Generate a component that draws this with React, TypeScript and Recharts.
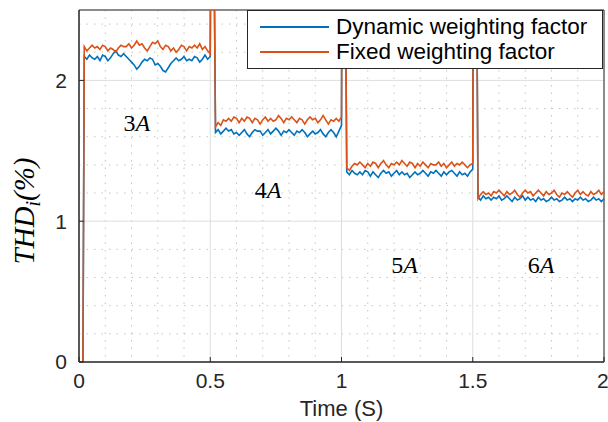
import React from 'react';
import { LineChart, Line, XAxis, YAxis, CartesianGrid, Legend, ReferenceArea, ReferenceDot } from 'recharts';

// time grid: each current step is sampled every 0.01 s
const SEG_START = [0.02, 0.52, 1.02, 1.52];
const SWITCH_TIMES = [0.5, 1.0, 1.5];
const STEP = 0.01;
const SPIKE = 3; // transient at each load change, runs off the top of the axes

const DYN_3A = [
  2.17, 2.15, 2.18, 2.16, 2.15, 2.17, 2.14, 2.18, 2.17, 2.14,
  2.16, 2.19, 2.21, 2.18, 2.17, 2.19, 2.17, 2.15, 2.13, 2.11,
  2.08, 2.10, 2.13, 2.15, 2.14, 2.16, 2.15, 2.11, 2.12, 2.10,
  2.07, 2.06, 2.09, 2.12, 2.14, 2.16, 2.14, 2.15, 2.17, 2.14,
  2.15, 2.14, 2.17, 2.16, 2.13, 2.15, 2.18, 2.15, 2.17,
];
const FIX_3A = [
  2.24, 2.21, 2.23, 2.25, 2.23, 2.24, 2.22, 2.25, 2.24, 2.21,
  2.23, 2.22, 2.20, 2.23, 2.25, 2.24, 2.24, 2.26, 2.23, 2.25,
  2.28, 2.25, 2.26, 2.23, 2.21, 2.24, 2.27, 2.26, 2.28, 2.24,
  2.22, 2.25, 2.24, 2.21, 2.23, 2.20, 2.22, 2.25, 2.24, 2.21,
  2.24, 2.23, 2.25, 2.23, 2.26, 2.22, 2.24, 2.21, 2.19,
];
const DYN_4A = [
  1.63, 1.65, 1.62, 1.64, 1.66, 1.64, 1.65, 1.62, 1.63, 1.61,
  1.63, 1.65, 1.62, 1.60, 1.63, 1.65, 1.64, 1.64, 1.61, 1.63,
  1.65, 1.62, 1.64, 1.66, 1.64, 1.61, 1.64, 1.63, 1.65, 1.63,
  1.61, 1.64, 1.63, 1.65, 1.63, 1.60, 1.62, 1.64, 1.62, 1.63,
  1.65, 1.62, 1.60, 1.63, 1.65, 1.63, 1.60, 1.64, 1.68,
];
const FIX_4A = [
  1.67, 1.70, 1.68, 1.72, 1.71, 1.73, 1.71, 1.74, 1.73, 1.70,
  1.73, 1.71, 1.74, 1.73, 1.70, 1.73, 1.72, 1.69, 1.72, 1.74,
  1.71, 1.73, 1.71, 1.72, 1.75, 1.73, 1.70, 1.73, 1.72, 1.74,
  1.72, 1.70, 1.73, 1.72, 1.69, 1.72, 1.74, 1.72, 1.73, 1.70,
  1.72, 1.75, 1.72, 1.69, 1.72, 1.71, 1.73, 1.71, 1.74,
];
const DYN_5A = [
  1.35, 1.33, 1.36, 1.34, 1.33, 1.35, 1.33, 1.36, 1.35, 1.32,
  1.35, 1.33, 1.31, 1.34, 1.36, 1.34, 1.35, 1.32, 1.34, 1.36,
  1.33, 1.35, 1.33, 1.34, 1.31, 1.33, 1.35, 1.33, 1.34, 1.36,
  1.34, 1.32, 1.35, 1.34, 1.36, 1.34, 1.32, 1.35, 1.33, 1.35,
  1.36, 1.34, 1.32, 1.35, 1.33, 1.34, 1.32, 1.35, 1.37,
];
const FIX_5A = [
  1.38, 1.36, 1.39, 1.41, 1.40, 1.42, 1.40, 1.38, 1.41, 1.39,
  1.42, 1.41, 1.38, 1.41, 1.43, 1.40, 1.38, 1.41, 1.40, 1.42,
  1.40, 1.43, 1.41, 1.39, 1.42, 1.41, 1.38, 1.41, 1.39, 1.42,
  1.40, 1.38, 1.41, 1.40, 1.40, 1.42, 1.39, 1.41, 1.38, 1.40,
  1.42, 1.39, 1.41, 1.40, 1.42, 1.40, 1.38, 1.40, 1.41,
];
const DYN_6A = [
  1.17, 1.15, 1.18, 1.16, 1.17, 1.15, 1.17, 1.16, 1.18, 1.15,
  1.16, 1.18, 1.16, 1.14, 1.17, 1.15, 1.16, 1.18, 1.15, 1.17,
  1.15, 1.16, 1.14, 1.17, 1.15, 1.16, 1.14, 1.15, 1.17, 1.15,
  1.16, 1.14, 1.15, 1.17, 1.15, 1.16, 1.14, 1.16, 1.15, 1.17,
  1.15, 1.16, 1.14, 1.15, 1.17, 1.15, 1.16, 1.14, 1.16,
];
const FIX_6A = [
  1.16, 1.19, 1.21, 1.19, 1.20, 1.18, 1.21, 1.20, 1.22, 1.20,
  1.18, 1.21, 1.19, 1.20, 1.22, 1.19, 1.17, 1.20, 1.22, 1.20,
  1.21, 1.18, 1.20, 1.22, 1.20, 1.18, 1.21, 1.19, 1.20, 1.22,
  1.19, 1.17, 1.20, 1.19, 1.21, 1.19, 1.17, 1.20, 1.22, 1.19,
  1.21, 1.19, 1.18, 1.21, 1.19, 1.20, 1.22, 1.19, 1.21,
];

const DYN_SEGMENTS = [DYN_3A, DYN_4A, DYN_5A, DYN_6A];
const FIX_SEGMENTS = [FIX_3A, FIX_4A, FIX_5A, FIX_6A];

const CURRENT_LABELS = ['3A', '4A', '5A', '6A'];
const LABEL_T = [0.22, 0.72, 1.24, 1.76];
const LABEL_Y = [1.7, 1.22, 0.69, 0.69];

const X_TICKS = [0, 0.5, 1, 1.5, 2];
const Y_TICKS = [0, 1, 2];
const X_MINOR = [0.1, 0.2, 0.3, 0.4, 0.6, 0.7, 0.8, 0.9, 1.1, 1.2, 1.3, 1.4, 1.6, 1.7, 1.8, 1.9];
const Y_MINOR = [0.2, 0.4, 0.6, 0.8, 1.2, 1.4, 1.6, 1.8, 2.2, 2.4];

const BLUE = '#0072BD';
const ORANGE = '#D95319';
const AXIS = '#262626';
const SANS = "'Liberation Sans', Arial, sans-serif";
const SERIF = "'Liberation Serif', serif";

const r3 = (v: number) => Math.round(v * 1000) / 1000;

const data: { t: number; dyn: number; fix: number }[] = [
  { t: 0, dyn: 0, fix: 0 },
  { t: 0.015, dyn: 0, fix: 0 },
];
DYN_SEGMENTS.forEach((seg, s) => {
  seg.forEach((v, i) => {
    data.push({ t: r3(SEG_START[s] + i * STEP), dyn: v, fix: FIX_SEGMENTS[s][i] });
  });
  if (s < SWITCH_TIMES.length) {
    data.push({ t: r3(SWITCH_TIMES[s] + 0.002), dyn: SPIKE, fix: SPIKE });
    data.push({ t: r3(SWITCH_TIMES[s] + 0.014), dyn: SPIKE, fix: SPIKE });
  }
});

const CurrentLabel = ({ viewBox, value }: any) => {
  const cx = viewBox.x + (viewBox.width || 0) / 2;
  const cy = viewBox.y + (viewBox.height || 0) / 2;
  const txt = String(value);
  return (
    <text x={cx} y={cy + 8} textAnchor="middle" fontFamily={SERIF} fontSize={24} fill="#000">
      <tspan>{txt.slice(0, 1)}</tspan>
      <tspan fontStyle="italic">{txt.slice(1)}</tspan>
    </text>
  );
};

const YLabel = () => (
  <text
    transform="translate(34, 211) rotate(-90)"
    textAnchor="middle"
    fontFamily={SERIF}
    fontStyle="italic"
    fontSize={29}
    fill="#000"
  >
    <tspan>THD</tspan>
    <tspan fontSize={20} dy={6}>i</tspan>
    <tspan dy={-6}>(%)</tspan>
  </text>
);

const LegendBox = () => (
  <div
    style={{
      width: 356,
      height: 59,
      boxSizing: 'border-box',
      border: `1.3px solid ${AXIS}`,
      background: '#fff',
      fontFamily: SANS,
      fontSize: 22.5,
      color: '#000',
      paddingTop: 3,
      whiteSpace: 'nowrap',
    }}
  >
    {[
      { name: 'Dynamic weighting factor', color: BLUE },
      { name: 'Fixed weighting factor', color: ORANGE },
    ].map((item) => (
      <div key={item.name} style={{ display: 'flex', alignItems: 'center', height: 25 }}>
        <span style={{ display: 'inline-block', width: 69, height: 2, background: item.color, marginLeft: 12, marginRight: 7 }} />
        <span>{item.name}</span>
      </div>
    ))}
  </div>
);

export default function App() {
  return (
    <div style={{ position: 'absolute', left: 0, top: 0, width: 608, height: 422, background: '#fff' }}>
      <LineChart width={608} height={422} data={data} margin={{ top: 10, right: 4, bottom: 0, left: 0 }}>
        <CartesianGrid
          stroke="#c4c4c4"
          strokeDasharray="1.5 6"
          horizontalValues={Y_MINOR}
          verticalValues={X_MINOR}
        />
        <CartesianGrid stroke="#dedede" strokeWidth={1} />
        <XAxis
          dataKey="t"
          type="number"
          domain={[0, 2]}
          ticks={X_TICKS}
          height={60}
          stroke={AXIS}
          tickSize={-5}
          tickMargin={16}
          tick={{ fill: AXIS, fontSize: 21, fontFamily: SANS }}
          label={{ value: 'Time (S)', position: 'insideBottom', offset: 6, fill: AXIS, fontSize: 22, fontFamily: SANS }}
        />
        <YAxis
          type="number"
          domain={[0, 2.5]}
          ticks={Y_TICKS}
          allowDataOverflow
          width={79}
          stroke={AXIS}
          tickSize={-5}
          tickMargin={17}
          tick={{ fill: AXIS, fontSize: 21, fontFamily: SANS }}
          label={<YLabel />}
        />
        <ReferenceArea x1={0} x2={2} y1={0} y2={2.5} fill="none" stroke={AXIS} strokeWidth={1} />
        <Legend
          layout="vertical"
          align="center"
          verticalAlign="middle"
          content={<LegendBox />}
          wrapperStyle={{ position: 'absolute', left: 247, top: 10, width: 356, height: 59 }}
        />
        <Line type="linear" dataKey="dyn" name="Dynamic weighting factor" stroke={BLUE} strokeWidth={1.6} dot={false} isAnimationActive={false} />
        <Line type="linear" dataKey="fix" name="Fixed weighting factor" stroke={ORANGE} strokeWidth={1.6} dot={false} isAnimationActive={false} />
        {CURRENT_LABELS.map((lab, i) => (
          <ReferenceDot key={lab} x={LABEL_T[i]} y={LABEL_Y[i]} r={0} fill="none" stroke="none" label={<CurrentLabel value={lab} />} />
        ))}
      </LineChart>
    </div>
  );
}
